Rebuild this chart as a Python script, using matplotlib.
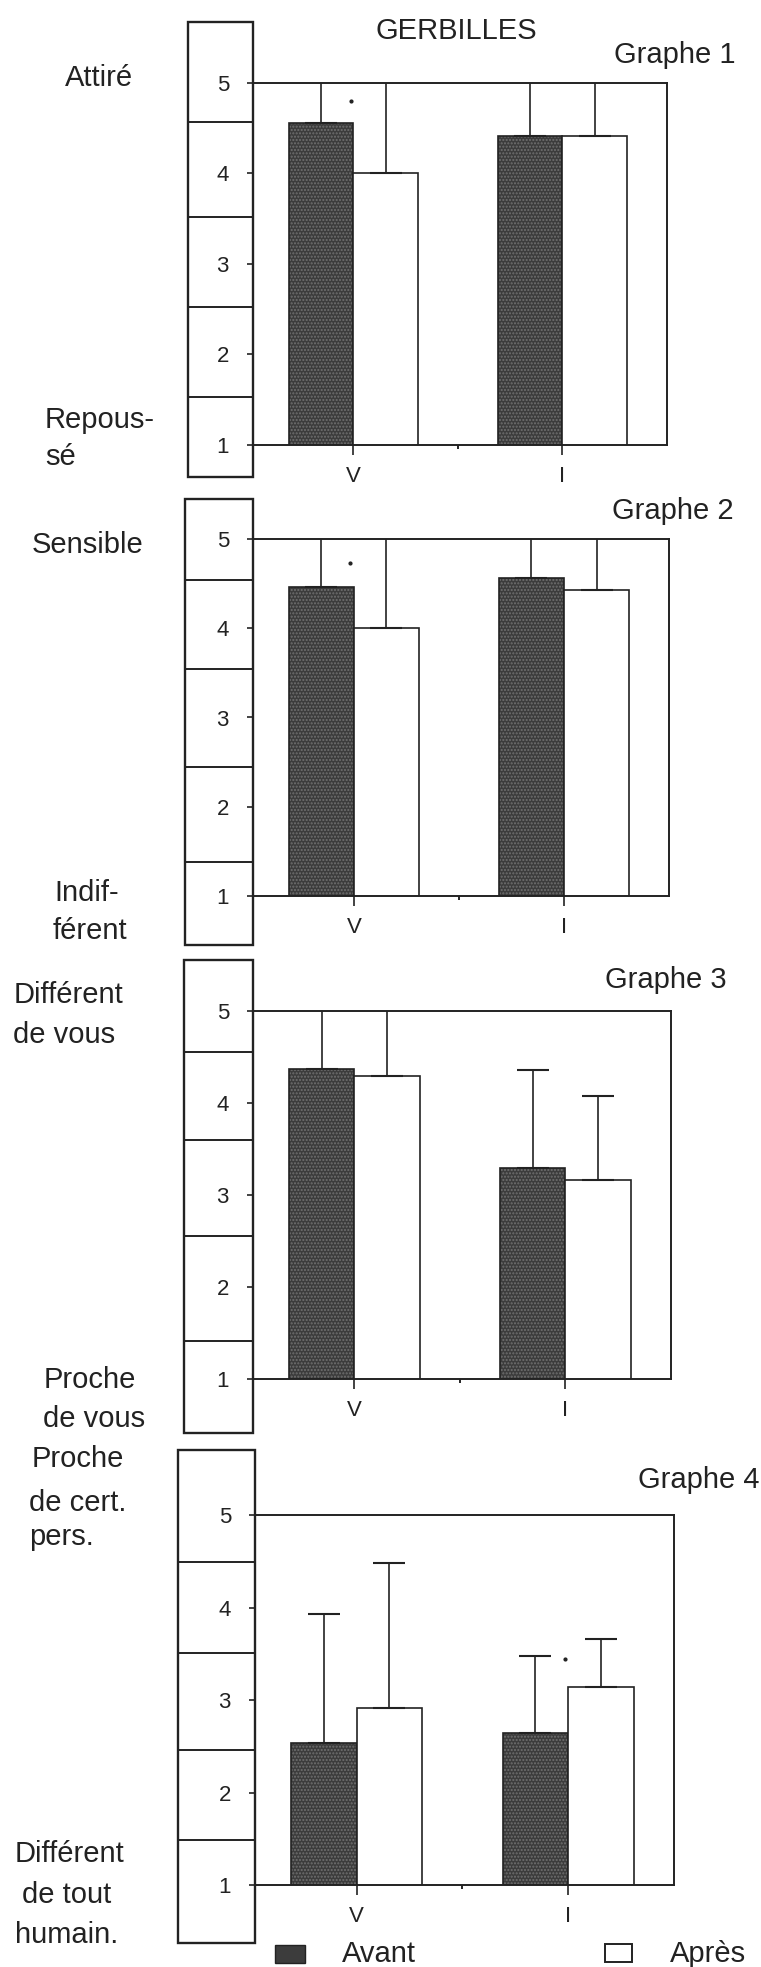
import numpy as np
import matplotlib
matplotlib.use("Agg")
import matplotlib.pyplot as plt
import matplotlib.transforms as mtransforms
from matplotlib.patches import Rectangle

plt.rcParams['font.family'] = ['Liberation Sans', 'DejaVu Sans']

W, H = 761, 1967

categories = ['V', 'I']
series = ['Avant', 'Après']

# valeurs moyennes (echelle 1-5) et ecarts (barre d'erreur vers le haut)
avant_1 = [4.56, 4.41]
apres_1 = [4.00, 4.41]
err_avant_1 = [0.60, 0.70]
err_apres_1 = [1.10, 0.70]

avant_2 = [4.46, 4.56]
apres_2 = [4.00, 4.43]
err_avant_2 = [0.70, 0.60]
err_apres_2 = [1.20, 0.70]

avant_3 = [4.37, 3.29]
apres_3 = [4.29, 3.16]
err_avant_3 = [0.90, 1.07]
err_apres_3 = [1.00, 0.92]

avant_4 = [2.54, 2.64]
apres_4 = [2.91, 3.14]
err_avant_4 = [1.39, 0.84]
err_apres_4 = [1.57, 0.52]

# points de significativite (x, y)
sig_1 = [(-0.01, 4.80)]
sig_2 = [(-0.02, 4.73)]
sig_3 = []
sig_4 = [(0.985, 3.44)]

dark = '#3c3c3c'
ink = '#222222'
FS = 21


def fx(x):
    return x / W


def fy(y):
    return 1 - y / H


def panel(fig, rect, avant, apres, err_av, err_ap, sig, box, labels):
    x0, y0, x1, y1 = rect
    ax = fig.add_axes([fx(x0), fy(y1), (x1 - x0) / W, (y1 - y0) / H])
    x = np.arange(len(categories))
    w = 0.31
    # barres "avant" : gris fonce moucheté
    ax.bar(x - w / 2, avant, w, color=dark, edgecolor='#707070', hatch='.....', linewidth=0)
    ax.bar(x - w / 2, avant, w, color='none', edgecolor=ink, linewidth=1.2)
    ax.bar(x + w / 2, apres, w, color='white', edgecolor=ink, linewidth=1.2)
    ax.errorbar(x - w / 2, avant, yerr=[np.zeros(2), err_av], fmt='none',
                ecolor=ink, elinewidth=1.2, capsize=11.5, capthick=1.5)
    ax.errorbar(x + w / 2, apres, yerr=[np.zeros(2), err_ap], fmt='none',
                ecolor=ink, elinewidth=1.2, capsize=11.5, capthick=1.5)
    for sx, sy in sig:
        ax.plot(sx, sy, '.', color=ink, markersize=4)
    ax.set_xlim(-0.48, 1.5)
    ax.set_ylim(1, 5)
    ax.set_yticks([1, 2, 3, 4, 5])
    ax.set_xticks(x)
    ax.set_xticklabels(categories)
    ax.set_xticks([0.5], minor=True)
    ax.tick_params(axis='y', direction='out', length=4.3, width=1.2, pad=13,
                   labelsize=16, colors=ink)
    ax.tick_params(axis='x', which='major', direction='out', length=7, width=1.2,
                   pad=8, labelsize=16, colors=ink)
    ax.tick_params(axis='x', which='minor', direction='out', length=3, width=1.2)
    for s in ax.spines.values():
        s.set_linewidth(1.4)
        s.set_color(ink)

    # cadre de l'echelle a gauche
    trans = mtransforms.blended_transform_factory(ax.transAxes, ax.transData)
    bl, bb, bt, divs = box
    ax.add_patch(Rectangle((bl, bb), -bl, bt - bb, transform=trans, fill=False,
                           edgecolor=ink, linewidth=1.7, clip_on=False))
    for d in divs:
        ax.plot([bl, 0], [d, d], color=ink, linewidth=1.4, transform=trans, clip_on=False)

    for txt, (lx, ly) in labels:
        fig.text(fx(lx), fy(ly), txt, fontsize=FS, color=ink, ha='left', va='baseline')
    return ax


fig = plt.figure(figsize=(W / 100, H / 100), dpi=100)

panel(fig, (253, 83, 667, 445), avant_1, apres_1, err_avant_1, err_apres_1, sig_1,
      (-0.157, 0.65, 5.67, [4.57, 3.52, 2.53, 1.53]),
      [('Attiré', (65, 86)), ('Repous-', (45, 428)), ('sé', (45, 465))])
fig.text(fx(735), fy(63), 'Graphe 1', fontsize=FS, color=ink, ha='right', va='baseline')

panel(fig, (253, 539, 669, 896), avant_2, apres_2, err_avant_2, err_apres_2, sig_2,
      (-0.163, 0.45, 5.45, [4.54, 3.54, 2.45, 1.38]),
      [('Sensible', (32, 553)), ('Indif-', (54, 901)), ('férent', (53, 939))])
fig.text(fx(734), fy(519), 'Graphe 2', fontsize=FS, color=ink, ha='right', va='baseline')

panel(fig, (253, 1011, 671, 1379), avant_3, apres_3, err_avant_3, err_apres_3, sig_3,
      (-0.165, 0.41, 5.55, [4.55, 3.60, 2.55, 1.41]),
      [('Différent', (14, 1003)), ('de vous', (13, 1043)),
       ('Proche', (44, 1388)), ('de vous', (43, 1427))])
fig.text(fx(727), fy(988), 'Graphe 3', fontsize=FS, color=ink, ha='right', va='baseline')

panel(fig, (255, 1515, 674, 1885), avant_4, apres_4, err_avant_4, err_apres_4, sig_4,
      (-0.184, 0.37, 5.70, [4.49, 3.51, 2.46, 1.49]),
      [('Proche', (32, 1467)), ('de cert.', (29, 1511)), ('pers.', (29, 1545)),
       ('Différent', (15, 1862)), ('de tout', (22, 1903)), ('humain.', (15, 1943))])
fig.text(fx(759), fy(1488), 'Graphe 4', fontsize=FS, color=ink, ha='right', va='baseline')

fig.text(fx(456), fy(39), 'GERBILLES', fontsize=FS, color=ink, ha='center', va='baseline')

# legende
fig.patches.append(Rectangle((fx(275), fy(1963)), 30 / W, 18 / H, transform=fig.transFigure,
                             facecolor=dark, edgecolor=ink, linewidth=1))
fig.patches.append(Rectangle((fx(605), fy(1962)), 27 / W, 18 / H, transform=fig.transFigure,
                             facecolor='white', edgecolor=ink, linewidth=1.4))
fig.text(fx(342), fy(1962), series[0], fontsize=FS, color=ink, ha='left', va='baseline')
fig.text(fx(670), fy(1962), series[1], fontsize=FS, color=ink, ha='left', va='baseline')

fig.savefig('out.png', dpi=100)
